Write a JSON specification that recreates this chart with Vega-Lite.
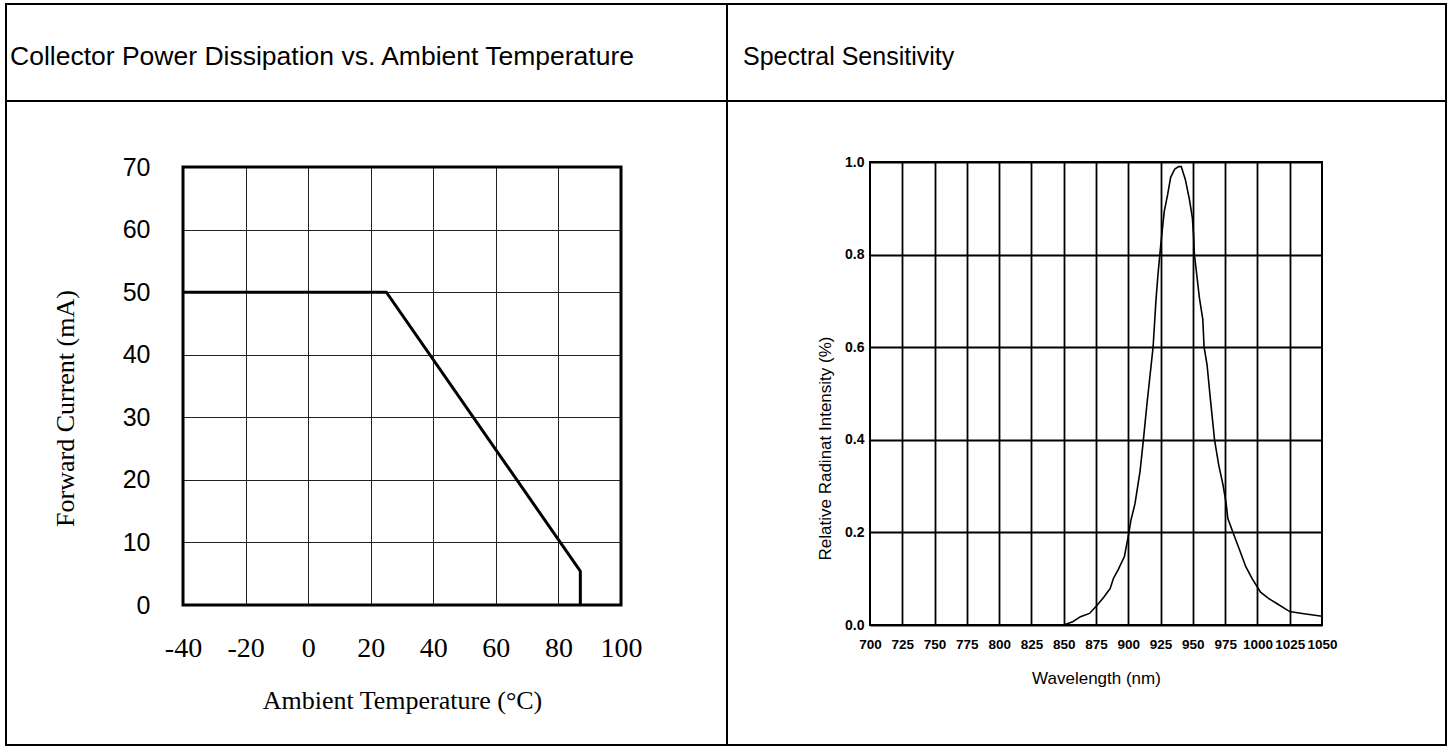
{
  "$schema": "https://vega.github.io/schema/vega-lite/v6.json",
  "padding": {"left": 5, "top": 3, "right": 0, "bottom": 0},
  "background": "white",
  "columns": 2,
  "spacing": 0,
  "bounds": "flush",
  "align": "each",
  "config": {
    "view": {"stroke": "black", "strokeWidth": 2},
    "concat": {"spacing": 0},
    "axis": {"ticks": false, "tickSize": 0, "domain": false, "labelColor": "black", "titleColor": "black", "labelOverlap": false, "labelBound": false, "labelFlush": false, "titleFontWeight": "normal"}
  },
  "concat": [
    {
      "width": 721, "height": 97,
      "data": {"values": [{"label": "Collector Power Dissipation vs. Ambient Temperature"}]},
      "mark": {"type": "text", "align": "left", "baseline": "middle", "font": "Liberation Sans", "fontSize": 26.5, "color": "black", "dx": 4, "dy": 4},
      "encoding": {
        "text": {"field": "label"},
        "x": {"datum": 0, "type": "quantitative", "scale": {"domain": [0, 1]}, "axis": null}
      }
    },
    {
      "width": 719, "height": 97,
      "data": {"values": [{"label": "Spectral Sensitivity"}]},
      "mark": {"type": "text", "align": "left", "baseline": "middle", "font": "Liberation Sans", "fontSize": 25, "color": "black", "dx": 16, "dy": 4},
      "encoding": {
        "text": {"field": "label"},
        "x": {"datum": 0, "type": "quantitative", "scale": {"domain": [0, 1]}, "axis": null}
      }
    },
    {
      "width": 721, "height": 644,
      "resolve": {"axis": {"x": "independent"}},
      "layer": [
        {
          "data": {"values": [
            {"t": -40, "i": 50, "o": 1},
            {"t": 25, "i": 50, "o": 2},
            {"t": 87, "i": 5.4, "o": 3},
            {"t": 87, "i": 0, "o": 4}
          ]},
          "mark": {"type": "line", "color": "black", "strokeWidth": 3, "strokeJoin": "miter"},
          "encoding": {
            "x": {"field": "t", "type": "quantitative",
              "scale": {"domain": [-40, 100], "range": [177, 615], "nice": false, "zero": false},
              "axis": {"orient": "bottom", "values": [-40, -20, 0, 20, 40, 60, 80, 100], "labelExpr": "toString(datum.value)",
                "title": "Ambient Temperature (°C)", "offset": -140, "grid": false,
                "labelFont": "Liberation Serif", "labelFontSize": 28, "labelPadding": 29,
                "titleFont": "Liberation Serif", "titleFontSize": 26, "titlePadding": 25}},
            "y": {"field": "i", "type": "quantitative",
              "scale": {"domain": [0, 70], "range": [504, 66], "nice": false, "zero": false},
              "axis": {"values": [0, 10, 20, 30, 40, 50, 60, 70], "title": "Forward Current (mA)", "offset": -177,
                "grid": true, "gridColor": "#222", "gridWidth": 1,
                "labelFont": "Liberation Sans", "labelFontSize": 25, "labelPadding": 33,
                "titleFont": "Liberation Serif", "titleFontSize": 26, "titlePadding": 44, "titleY": 307}},
            "order": {"field": "o", "type": "quantitative"}
          }
        },
        {
          "data": {"values": [{}]},
          "mark": {"type": "rect", "fill": "white", "fillOpacity": 0, "stroke": "black", "strokeWidth": 3},
          "encoding": {
            "x": {"datum": -40, "type": "quantitative",
              "axis": {"orient": "top", "values": [-20, 0, 20, 40, 60, 80], "labels": false, "title": null, "offset": -66,
                "grid": true, "gridColor": "#222", "gridWidth": 1}},
            "x2": {"datum": 100},
            "y": {"datum": 0, "type": "quantitative"},
            "y2": {"datum": 70}
          }
        }
      ]
    },
    {
      "width": 719, "height": 644,
      "resolve": {"axis": {"x": "independent"}},
      "layer": [
        {
          "data": {"values": [
            {"nm": 836, "r": 0.0},
            {"nm": 850, "r": 0.0},
            {"nm": 857, "r": 0.007},
            {"nm": 863, "r": 0.018},
            {"nm": 870, "r": 0.025},
            {"nm": 876, "r": 0.043},
            {"nm": 881, "r": 0.06},
            {"nm": 886, "r": 0.079},
            {"nm": 888.4, "r": 0.1},
            {"nm": 892.3, "r": 0.12},
            {"nm": 897, "r": 0.148},
            {"nm": 900.4, "r": 0.198},
            {"nm": 902, "r": 0.226},
            {"nm": 905.2, "r": 0.262},
            {"nm": 909.1, "r": 0.332},
            {"nm": 911.7, "r": 0.4},
            {"nm": 914.3, "r": 0.473},
            {"nm": 916.6, "r": 0.533},
            {"nm": 919.2, "r": 0.6},
            {"nm": 921.4, "r": 0.7},
            {"nm": 923, "r": 0.757},
            {"nm": 924.7, "r": 0.808},
            {"nm": 926.3, "r": 0.853},
            {"nm": 927.9, "r": 0.894},
            {"nm": 930.5, "r": 0.93},
            {"nm": 932.8, "r": 0.967},
            {"nm": 936, "r": 0.985},
            {"nm": 939, "r": 0.99},
            {"nm": 941, "r": 0.99},
            {"nm": 944.1, "r": 0.963},
            {"nm": 947.3, "r": 0.92},
            {"nm": 949.6, "r": 0.88},
            {"nm": 950.6, "r": 0.84},
            {"nm": 951.2, "r": 0.8},
            {"nm": 953, "r": 0.757},
            {"nm": 955, "r": 0.708},
            {"nm": 957.7, "r": 0.66},
            {"nm": 958.7, "r": 0.6},
            {"nm": 961, "r": 0.562},
            {"nm": 963.5, "r": 0.49},
            {"nm": 966.8, "r": 0.4},
            {"nm": 970, "r": 0.346},
            {"nm": 973.2, "r": 0.305},
            {"nm": 975.8, "r": 0.262},
            {"nm": 977.1, "r": 0.23},
            {"nm": 981.3, "r": 0.198},
            {"nm": 986.2, "r": 0.162},
            {"nm": 991, "r": 0.126},
            {"nm": 995.9, "r": 0.1},
            {"nm": 1002.4, "r": 0.071},
            {"nm": 1008.8, "r": 0.057},
            {"nm": 1015.3, "r": 0.046},
            {"nm": 1025, "r": 0.029},
            {"nm": 1034.7, "r": 0.025},
            {"nm": 1050, "r": 0.019}
          ]},
          "mark": {"type": "line", "color": "black", "strokeWidth": 1.6},
          "encoding": {
            "x": {"field": "nm", "type": "quantitative",
              "scale": {"domain": [700, 1050], "range": [143, 595], "nice": false, "zero": false},
              "axis": {"orient": "bottom", "values": [700, 725, 750, 775, 800, 825, 850, 875, 900, 925, 950, 975, 1000, 1025, 1050], "format": "d",
                "title": "Wavelength (nm)", "offset": -120, "grid": false,
                "labelFont": "Liberation Sans", "labelFontSize": 13.5, "labelFontWeight": "bold", "labelPadding": 12,
                "titleFont": "Liberation Sans", "titleFontSize": 17, "titlePadding": 20}},
            "y": {"field": "r", "type": "quantitative",
              "scale": {"domain": [0, 1], "range": [524, 61], "nice": false, "zero": false},
              "axis": {"values": [0, 0.2, 0.4, 0.6, 0.8, 1.0], "format": ".1f", "title": "Relative Radinat Intensity (%)", "offset": -143,
                "grid": true, "gridColor": "black", "gridWidth": 1.8,
                "labelFont": "Liberation Sans", "labelFontSize": 14, "labelFontWeight": "bold", "labelPadding": 6,
                "titleFont": "Liberation Sans", "titleFontSize": 17, "titlePadding": 10, "titleY": 347}}
          }
        },
        {
          "data": {"values": [{}]},
          "mark": {"type": "rect", "fill": "white", "fillOpacity": 0, "stroke": "black", "strokeWidth": 2},
          "encoding": {
            "x": {"datum": 700, "type": "quantitative",
              "axis": {"orient": "top", "values": [725, 750, 775, 800, 825, 850, 875, 900, 925, 950, 975, 1000, 1025], "labels": false, "title": null, "offset": -61,
                "grid": true, "gridColor": "black", "gridWidth": 1.8}},
            "x2": {"datum": 1050},
            "y": {"datum": 0, "type": "quantitative"},
            "y2": {"datum": 1}
          }
        }
      ]
    }
  ]
}
